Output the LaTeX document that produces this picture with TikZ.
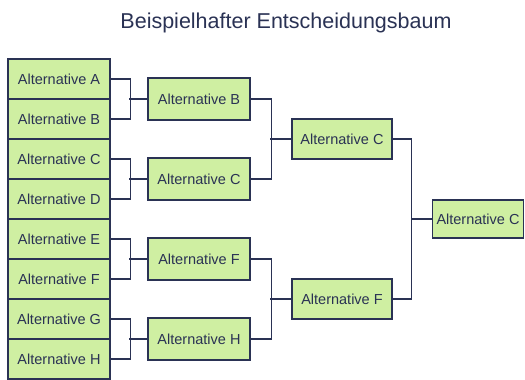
\documentclass[tikz,border=0pt]{standalone}
\usepackage{fontspec}
\setmainfont{Liberation Sans}
\usepackage{tikz}
\definecolor{boxgreen}{RGB}{207,239,162}
\definecolor{inkblue}{RGB}{42,50,84}
\tikzstyle{alt} = [rectangle, minimum width=102pt, minimum height=40pt, text centered, draw=inkblue, line width=1.3pt, fill=boxgreen, text=inkblue, font=\fontsize{14.5}{17}\selectfont, inner sep=1pt]
\tikzstyle{line} = [draw=inkblue, line width=1.3pt]

\begin{document}
\begin{tikzpicture}[node distance=40pt]
    \useasboundingbox (0,0) rectangle (525pt,380pt);
    \node (title) [text=inkblue, font=\fontsize{21.5}{25}\selectfont] at (286pt,357pt) {Beispielhafter Entscheidungsbaum};

    % erste Runde
    \node (altA) [alt] at (59pt,301pt) {Alternative A};
    \node (altB) [alt, below of=altA] {Alternative B};
    \node (altC) [alt, below of=altB] {Alternative C};
    \node (altD) [alt, below of=altC] {Alternative D};
    \node (altE) [alt, below of=altD] {Alternative E};
    \node (altF) [alt, below of=altE] {Alternative F};
    \node (altG) [alt, below of=altF] {Alternative G};
    \node (altH) [alt, below of=altG] {Alternative H};

    % zweite Runde
    \node (win1) [alt, minimum height=42pt, right of=altA, xshift=100pt, yshift=-20pt] {Alternative B};
    \node (win2) [alt, minimum height=42pt, right of=altC, xshift=100pt, yshift=-20pt] {Alternative C};
    \node (win3) [alt, minimum height=42pt, right of=altE, xshift=100pt, yshift=-20pt] {Alternative F};
    \node (win4) [alt, minimum height=42pt, right of=altG, xshift=100pt, yshift=-20pt] {Alternative H};

    % dritte Runde
    \node (semi1) [alt, minimum width=100pt, right of=win1, xshift=103pt, yshift=-40pt] {Alternative C};
    \node (semi2) [alt, minimum width=100pt, right of=win3, xshift=103pt, yshift=-40pt] {Alternative F};

    % Sieger
    \node (final) [alt, minimum width=91pt, minimum height=38pt, right of=semi1, xshift=96pt, yshift=-80pt] {Alternative C};

    \draw [line] (altA.east) -- ++(20pt,0) |- (altB.east);
    \draw [line] (altC.east) -- ++(20pt,0) |- (altD.east);
    \draw [line] (altE.east) -- ++(20pt,0) |- (altF.east);
    \draw [line] (altG.east) -- ++(20pt,0) |- (altH.east);
    \draw [line] (win1.west) -- ++(-18pt,0);
    \draw [line] (win2.west) -- ++(-18pt,0);
    \draw [line] (win3.west) -- ++(-18pt,0);
    \draw [line] (win4.west) -- ++(-18pt,0);

    \draw [line] (win1.east) -- ++(21pt,0) |- (win2.east);
    \draw [line] (win3.east) -- ++(21pt,0) |- (win4.east);
    \draw [line] (semi1.west) -- ++(-21pt,0);
    \draw [line] (semi2.west) -- ++(-21pt,0);

    \draw [line] (semi1.east) -- ++(19pt,0) |- (semi2.east);
    \draw [line] (final.west) -- ++(-21pt,0);
\end{tikzpicture}
\end{document}
